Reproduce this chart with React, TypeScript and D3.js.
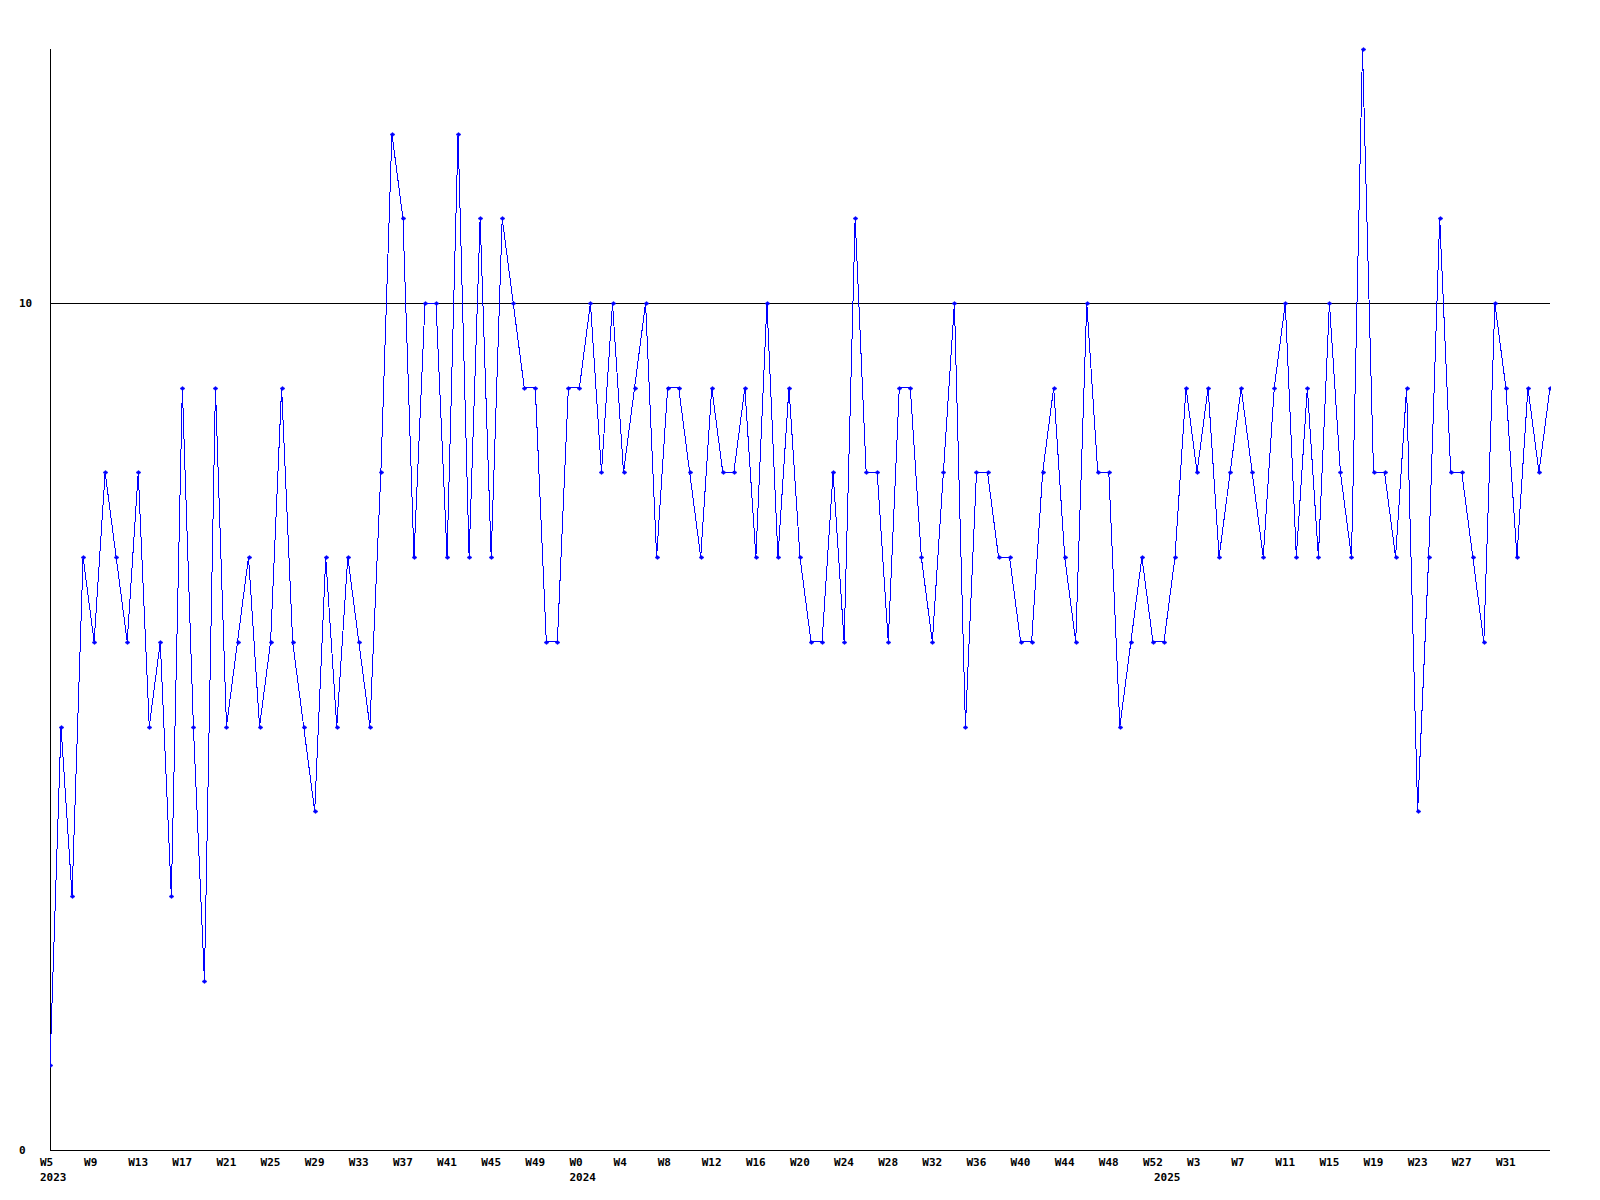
import React from "react";
import * as d3 from "d3";

// Weekly values, W5 2023 .. W35 2025
const values: number[] = [
  1, 5, 3, 7, 6, 8, 7, 6, 8, 5,
  6, 3, 9, 5, 2, 9, 5, 6, 7, 5,
  6, 9, 6, 5, 4, 7, 5, 7, 6, 5,
  8, 12, 11, 7, 10, 10, 7, 12, 7, 11,
  7, 11, 10, 9, 9, 6, 6, 9, 9, 10,
  8, 10, 8, 9, 10, 7, 9, 9, 8, 7,
  9, 8, 8, 9, 7, 10, 7, 9, 7, 6,
  6, 8, 6, 11, 8, 8, 6, 9, 9, 7,
  6, 8, 10, 5, 8, 8, 7, 7, 6, 6,
  8, 9, 7, 6, 10, 8, 8, 5, 6, 7,
  6, 6, 7, 9, 8, 9, 7, 8, 9, 8,
  7, 9, 10, 7, 9, 7, 10, 8, 7, 13,
  8, 8, 7, 9, 4, 7, 11, 8, 8, 7,
  6, 10, 9, 7, 9, 8, 9,
];

// x tick labels, every 4th week starting at the first point
const xTickLabels: string[] = [
  "W5", "W9", "W13", "W17", "W21", "W25", "W29", "W33", "W37", "W41", "W45", "W49",
  "W0", "W4", "W8", "W12", "W16", "W20", "W24", "W28", "W32", "W36", "W40", "W44", "W48", "W52",
  "W3", "W7", "W11", "W15", "W19", "W23", "W27", "W31",
];
const xTickStep = 4;

const yearLabels: string[] = ["2023", "2024", "2025"];
const yearStartIndex: number[] = [0, 48, 101];

const yTickValues: number[] = [0, 10];
const gridValues: number[] = [10];
const yMax = 13;

export default function App() {
  const left = 50;
  const right = 1550;
  const top = 49;
  const bottom = 1150;

  const x = d3.scaleLinear().domain([0, values.length - 1]).range([left, right]);
  const y = d3.scaleLinear().domain([0, yMax]).range([bottom, top]);

  const line = d3
    .line<number>()
    .x((_, i) => x(i))
    .y((d) => y(d));

  const font = "'DejaVu Sans Mono', monospace";
  const snap = (v: number) => Math.round(v) + 0.5;

  return (
    <div style={{ position: "absolute", left: 0, top: 0, width: 1600, height: 1200, background: "#fff" }}>
      <svg width={1600} height={1200} style={{ display: "block" }}>
        <defs>
          <clipPath id="plot">
            <rect x={left} y={0} width={right - left + 1} height={bottom + 1} />
          </clipPath>
        </defs>
        <rect x={0} y={0} width={1600} height={1200} fill="#fff" />

        {gridValues.map((g) => (
          <line
            key={"g" + g}
            x1={left}
            x2={right}
            y1={snap(y(g) - 0.5)}
            y2={snap(y(g) - 0.5)}
            stroke="#000"
            strokeWidth={1}
            shapeRendering="crispEdges"
          />
        ))}

        {/* axes */}
        <line x1={left + 0.5} x2={left + 0.5} y1={top} y2={bottom + 1} stroke="#000" strokeWidth={1} shapeRendering="crispEdges" />
        <line x1={left} x2={right} y1={bottom + 0.5} y2={bottom + 0.5} stroke="#000" strokeWidth={1} shapeRendering="crispEdges" />

        <g clipPath="url(#plot)">
          <path d={line(values) || ""} fill="none" stroke="#0000ff" strokeWidth={1} shapeRendering="crispEdges" />
          {values.map((v, i) => {
            const cx = Math.round(x(i)) + 0.5;
            const cy = Math.round(y(v)) + 0.5;
            return (
              <path
                key={"m" + i}
                d={`M${cx - 2.5},${cy} L${cx},${cy - 2} L${cx + 2.5},${cy} L${cx},${cy + 2} Z`}
                fill="#0000ff"
                stroke="#0000ff"
                strokeWidth={0.5}
              />
            );
          })}
        </g>

        {yTickValues.map((t) => (
          <text
            key={"yt" + t}
            x={19}
            y={y(t)}
            dy="0.35em"
            fontFamily={font}
            fontWeight="bold"
            fontSize={11}
            fill="#000"
          >
            {t}
          </text>
        ))}

        {xTickLabels.map((lab, k) => (
          <text
            key={"xt" + k}
            x={x(k * xTickStep) - 10}
            y={1166}
            fontFamily={font}
            fontWeight="bold"
            fontSize={11}
            fill="#000"
          >
            {lab}
          </text>
        ))}

        {yearLabels.map((lab, k) => (
          <text
            key={"yr" + k}
            x={x(yearStartIndex[k]) - 10}
            y={1181}
            fontFamily={font}
            fontWeight="bold"
            fontSize={11}
            fill="#000"
          >
            {lab}
          </text>
        ))}
      </svg>
    </div>
  );
}
